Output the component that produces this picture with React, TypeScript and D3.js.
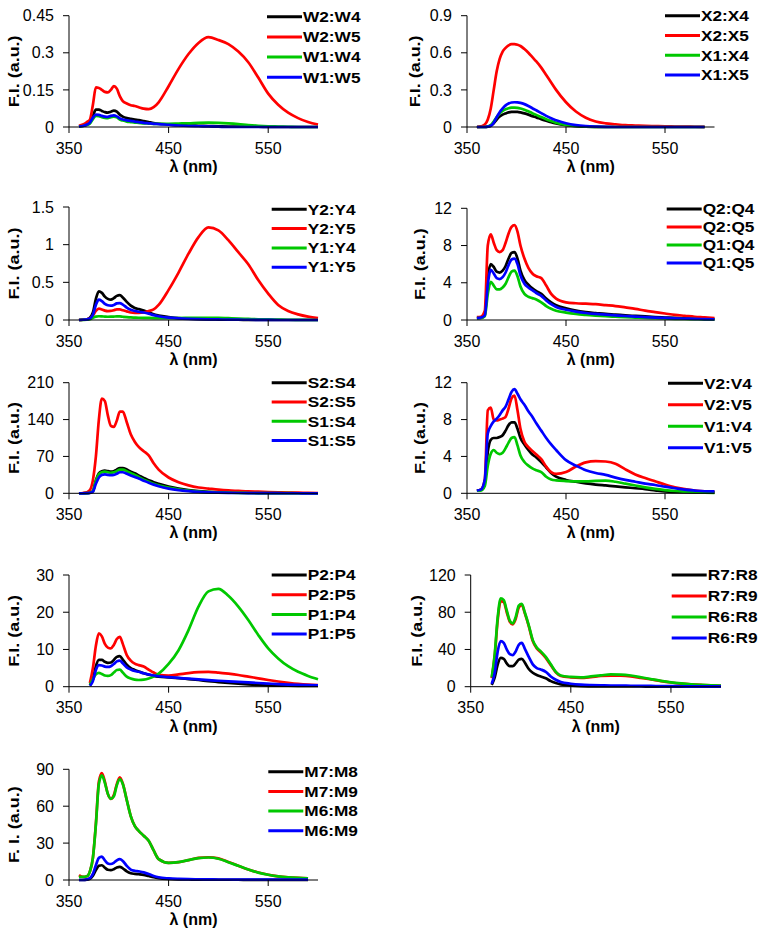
import * as d3 from 'd3';

// wavelength grid (nm) shared by every spectrum
const WL = [360, 364, 368, 371, 374, 377, 380, 383, 386, 389, 392, 395, 398, 401, 404, 408, 412, 416, 420, 425, 430, 435, 440, 450, 460, 470, 480, 490, 500, 510, 520, 530, 540, 550, 560, 570, 580, 590, 600];
const X_TICKS = [350, 450, 550];
const COLORS = ['#000000', '#ff0000', '#00c800', '#0000ff'];

// --- W ---
const W_NAMES = ['W2:W4', 'W2:W5', 'W1:W4', 'W1:W5'];
const W_TICKS = [0, 0.15, 0.3, 0.45];
const W_VALUES = [
  [0.002, 0.005, 0.01, 0.018, 0.045, 0.07, 0.07, 0.065, 0.06, 0.058, 0.062, 0.066, 0.062, 0.05, 0.042, 0.036, 0.033, 0.03, 0.028, 0.024, 0.02, 0.016, 0.013, 0.01, 0.008, 0.006, 0.005, 0.004, 0.003, 0.002, 0.002, 0.001, 0.001, 0, 0, 0, 0, 0, 0],
  [0.005, 0.01, 0.02, 0.03, 0.09, 0.16, 0.158, 0.15, 0.142, 0.14, 0.15, 0.165, 0.155, 0.125, 0.105, 0.095, 0.088, 0.085, 0.08, 0.074, 0.072, 0.08, 0.1, 0.165, 0.235, 0.295, 0.34, 0.363, 0.352, 0.335, 0.305, 0.262, 0.2, 0.135, 0.09, 0.058, 0.036, 0.02, 0.01],
  [0.002, 0.004, 0.008, 0.014, 0.032, 0.045, 0.044, 0.04, 0.037, 0.036, 0.04, 0.042, 0.039, 0.03, 0.026, 0.022, 0.02, 0.018, 0.017, 0.015, 0.014, 0.013, 0.013, 0.013, 0.014, 0.015, 0.017, 0.018, 0.017, 0.015, 0.012, 0.008, 0.005, 0.003, 0.002, 0.001, 0, 0, 0],
  [0.002, 0.004, 0.01, 0.018, 0.038, 0.05, 0.049, 0.045, 0.042, 0.041, 0.045, 0.047, 0.043, 0.035, 0.03, 0.027, 0.025, 0.022, 0.02, 0.017, 0.015, 0.013, 0.012, 0.009, 0.006, 0.004, 0.003, 0.002, 0.001, 0, 0, 0, 0, 0, 0, 0, 0, 0, 0],
];

// --- X ---
const X_NAMES = ['X2:X4', 'X2:X5', 'X1:X4', 'X1:X5'];
const X_YTICKS = [0, 0.3, 0.6, 0.9];
const X_VALUES = [
  [0, 0, 0, 0.003, 0.01, 0.03, 0.06, 0.085, 0.1, 0.11, 0.118, 0.122, 0.123, 0.122, 0.118, 0.11, 0.1, 0.088, 0.078, 0.063, 0.05, 0.038, 0.028, 0.014, 0.006, 0.003, 0.001, 0, 0, 0, 0, 0, 0, 0, 0, 0, 0, 0, null],
  [0, 0.005, 0.02, 0.06, 0.15, 0.3, 0.45, 0.55, 0.61, 0.64, 0.66, 0.67, 0.67, 0.665, 0.655, 0.63, 0.6, 0.565, 0.53, 0.48, 0.42, 0.36, 0.3, 0.2, 0.125, 0.075, 0.045, 0.03, 0.022, 0.015, 0.012, 0.009, 0.007, 0.005, 0.004, 0.003, 0.002, 0.001, null],
  [0, 0, 0, 0.004, 0.015, 0.045, 0.08, 0.11, 0.13, 0.143, 0.152, 0.156, 0.157, 0.155, 0.15, 0.14, 0.127, 0.112, 0.098, 0.08, 0.063, 0.048, 0.035, 0.017, 0.008, 0.003, 0.001, 0, 0, 0, 0, 0, 0, 0, 0, 0, 0, 0, null],
  [0, 0, 0, 0.003, 0.01, 0.035, 0.08, 0.12, 0.15, 0.175, 0.19, 0.198, 0.2, 0.199, 0.195, 0.185, 0.17, 0.152, 0.135, 0.112, 0.09, 0.07, 0.055, 0.03, 0.015, 0.007, 0.003, 0.001, 0, 0, 0, 0, 0, 0, 0, 0, 0, 0, null],
];

// --- Y ---
const Y_NAMES = ['Y2:Y4', 'Y2:Y5', 'Y1:Y4', 'Y1:Y5'];
const Y_YTICKS = [0, 0.5, 1, 1.5];
const Y_VALUES = [
  [0, 0.005, 0.01, 0.03, 0.1, 0.28, 0.38, 0.36, 0.31, 0.28, 0.27, 0.29, 0.32, 0.33, 0.3, 0.24, 0.19, 0.16, 0.145, 0.125, 0.1, 0.075, 0.06, 0.04, 0.025, 0.018, 0.012, 0.008, 0.006, 0.004, 0.003, 0.002, 0.001, 0, 0, 0, 0, 0, 0],
  [0, 0.005, 0.01, 0.02, 0.06, 0.12, 0.15, 0.14, 0.125, 0.118, 0.12, 0.13, 0.14, 0.14, 0.13, 0.115, 0.1, 0.095, 0.095, 0.1, 0.12, 0.14, 0.2, 0.4, 0.63, 0.88, 1.1, 1.23, 1.19, 1.06, 0.9, 0.74, 0.53, 0.35, 0.2, 0.12, 0.075, 0.045, 0.025],
  [0, 0.002, 0.005, 0.01, 0.03, 0.045, 0.05, 0.048, 0.045, 0.043, 0.044, 0.046, 0.048, 0.047, 0.043, 0.038, 0.034, 0.032, 0.03, 0.028, 0.027, 0.026, 0.025, 0.025, 0.026, 0.028, 0.03, 0.03, 0.028, 0.024, 0.02, 0.015, 0.01, 0.007, 0.005, 0.003, 0.002, 0.001, 0],
  [0, 0.003, 0.008, 0.02, 0.07, 0.2, 0.27, 0.25, 0.215, 0.195, 0.19, 0.2, 0.22, 0.225, 0.205, 0.165, 0.135, 0.12, 0.11, 0.1, 0.085, 0.065, 0.05, 0.032, 0.022, 0.016, 0.012, 0.009, 0.007, 0.005, 0.004, 0.003, 0.002, 0.001, 0, 0, 0, 0, 0],
];

// --- Q ---
const Q_NAMES = ['Q2:Q4', 'Q2:Q5', 'Q1:Q4', 'Q1:Q5'];
const Q_YTICKS = [0, 4, 8, 12];
const Q_VALUES = [
  [0.2, 0.25, 0.6, 4.5, 6.0, 5.7, 5.2, 5.1, 5.3, 5.8, 6.6, 7.2, 7.3, 6.6, 5.3, 4.3, 3.8, 3.4, 3.1, 2.8, 2.3, 1.9, 1.6, 1.25, 1.0, 0.85, 0.75, 0.65, 0.58, 0.5, 0.44, 0.38, 0.32, 0.27, 0.22, 0.18, 0.15, 0.12, 0.1],
  [0.3, 0.35, 1.0, 8.0, 9.2, 8.3, 7.5, 7.3, 7.5, 8.3, 9.3, 10.0, 10.2, 9.5, 8.0, 6.6, 5.6, 5.0, 4.7, 4.5, 3.7, 2.8, 2.3, 1.9, 1.8, 1.75, 1.7, 1.6, 1.5, 1.35, 1.2, 1.0, 0.85, 0.7, 0.55, 0.45, 0.35, 0.28, 0.2],
  [0.2, 0.2, 0.4, 2.8, 4.1, 3.7, 3.3, 3.3, 3.5, 3.9, 4.6, 5.2, 5.3, 4.7, 3.6, 2.8, 2.5, 2.35, 2.2, 1.9, 1.5, 1.2, 1.0, 0.8, 0.65, 0.55, 0.47, 0.4, 0.35, 0.3, 0.26, 0.22, 0.19, 0.16, 0.13, 0.11, 0.09, 0.07, 0.06],
  [0.2, 0.25, 0.5, 3.8, 5.4, 5.0, 4.5, 4.4, 4.6, 5.1, 5.9, 6.5, 6.6, 6.0, 4.8, 3.9, 3.5, 3.2, 2.9, 2.6, 2.1, 1.7, 1.4, 1.1, 0.9, 0.75, 0.65, 0.57, 0.5, 0.43, 0.37, 0.31, 0.26, 0.22, 0.18, 0.15, 0.12, 0.1, 0.08],
];

// --- S ---
const S_NAMES = ['S2:S4', 'S2:S5', 'S1:S4', 'S1:S5'];
const S_YTICKS = [0, 70, 140, 210];
const S_VALUES = [
  [0, 0, 0.3, 1, 4, 25, 38, 42, 43, 42, 41, 42, 45, 48, 48, 45, 41, 38, 34, 29, 25, 21, 18, 13, 9, 6, 4, 2.8, 2, 1.5, 1, 0.7, 0.5, 0.4, 0.3, 0.2, 0.1, 0.1, 0],
  [0, 0.5, 2, 6, 25, 70, 140, 180, 175, 148, 128, 126, 138, 155, 155, 135, 112, 98, 88, 80, 72, 57, 45, 30, 21, 15, 11, 9, 7, 5.5, 4.5, 3.5, 3, 2.5, 2, 1.5, 1.2, 0.9, 0.6],
  [0, 0, 0.3, 1, 4, 24, 36, 40, 41, 40, 39, 40, 42, 45, 45, 42, 38, 35, 31, 26, 22, 18, 15, 11, 7.5, 5, 3.3, 2.3, 1.6, 1.2, 0.8, 0.6, 0.4, 0.3, 0.2, 0.15, 0.1, 0.05, 0],
  [0, 0, 0.2, 0.8, 3, 18, 30, 35, 36, 35, 34.5, 35, 37, 40, 40, 37, 34, 31, 28, 24, 20, 16.5, 13.5, 9, 6, 4, 2.6, 1.8, 1.3, 0.9, 0.6, 0.4, 0.3, 0.2, 0.15, 0.1, 0.05, 0, 0],
];

// --- V ---
const V_NAMES = ['V2:V4', 'V2:V5', 'V1:V4', 'V1:V5'];
const V_YTICKS = [0, 4, 8, 12];
const V_VALUES = [
  [0.3, 0.4, 1.2, 4.5, 5.8, 6.0, 6.0, 6.1, 6.3, 6.8, 7.4, 7.7, 7.7, 7.0, 6.0, 5.3, 4.7, 4.2, 3.9, 3.4, 2.8, 2.2, 1.8, 1.45, 1.25, 1.08, 0.95, 0.85, 0.75, 0.65, 0.55, 0.45, 0.32, 0.2, 0.15, 0.12, 0.1, 0.1, 0.1],
  [0.3, 0.4, 1.5, 9.0, 9.3, 8.0, 7.9, 8.0, 8.1, 8.3, 9.2, 10.3, 10.6, 9.0, 7.0, 5.6, 5.0, 4.6, 4.2, 3.7, 2.9, 2.3, 2.1, 2.3, 2.9, 3.35, 3.5, 3.45, 3.2, 2.6, 2.05, 1.65, 1.3, 0.95, 0.65, 0.45, 0.3, 0.2, 0.15],
  [0.3, 0.3, 0.8, 3.0, 4.3, 4.7, 4.4, 4.25, 4.4, 4.9, 5.5, 6.0, 6.1, 5.2, 4.1, 3.4, 3.0, 2.7, 2.5, 2.3, 1.8, 1.5, 1.4, 1.33, 1.3, 1.3, 1.35, 1.37, 1.25, 1.05, 0.85, 0.65, 0.48, 0.35, 0.25, 0.18, 0.12, 0.08, 0.05],
  [0.3, 0.4, 1.5, 6.5, 7.3, 7.8, 8.1, 8.5, 9.0, 9.4, 10.2, 11.0, 11.3, 10.8, 10.2, 9.6, 8.9, 8.3, 7.6, 6.8, 6.0, 5.3, 4.7, 3.6, 3.0, 2.5, 2.2, 2.0, 1.7, 1.45, 1.25, 1.05, 0.9, 0.72, 0.55, 0.4, 0.3, 0.22, 0.2],
];

// --- P ---
const P_NAMES = ['P2:P4', 'P2:P5', 'P1:P4', 'P1:P5'];
const P_YTICKS = [0, 10, 20, 30];
const P_VALUES = [
  [null, null, null, 0.3, 2.0, 5.5, 7.2, 7.2, 6.7, 6.4, 6.5, 7.2, 8.0, 8.2, 7.3, 5.9, 5.0, 4.5, 4.1, 3.6, 3.2, 2.9, 2.7, 2.5, 2.3, 2.05, 1.8, 1.5, 1.25, 1.0, 0.8, 0.6, 0.45, 0.35, 0.3, 0.25, 0.22, 0.2, 0.2],
  [null, null, null, 1.0, 5, 11, 14.3, 13.5, 11.5, 10.5, 10.3, 11.2, 12.8, 13.4, 11.5, 8.5, 7.0, 6.2, 5.8, 5.4, 4.6, 3.8, 3.2, 3.0, 3.3, 3.65, 3.9, 4.0, 3.8, 3.5, 3.15, 2.7, 2.25, 1.8, 1.4, 1.05, 0.75, 0.55, 0.45],
  [null, null, null, 0.5, 2.0, 3.3, 3.7, 3.4, 3.0, 2.9, 3.1, 3.8, 4.5, 4.6, 3.8, 2.7, 2.2, 1.9, 1.8, 1.9, 2.2, 2.7, 3.5, 6.1, 9.8, 15.2, 21.5, 25.6, 26.3, 24.4, 21.5, 17.9, 13.9, 10.3, 7.6, 5.5, 4.0, 2.9, 2.0],
  [null, null, null, 0.2, 1.5, 4.5, 5.8, 5.7, 5.4, 5.3, 5.5, 6.1, 6.8, 7.0, 6.3, 5.2, 4.6, 4.2, 4.0, 3.6, 3.3, 3.0, 2.8, 2.55, 2.35, 2.15, 1.95, 1.75, 1.6, 1.45, 1.3, 1.15, 1.0, 0.85, 0.7, 0.58, 0.48, 0.4, 0.35],
];

// --- R ---
const R_NAMES = ['R7:R8', 'R7:R9', 'R6:R8', 'R6:R9'];
const R_YTICKS = [0, 40, 80, 120];
const R_VALUES = [
  [null, null, null, 2, 10, 24, 31, 30, 25, 22, 22, 25, 29, 30, 26, 19, 15, 12.5, 11, 9, 6, 4, 2.5, 1.2, 0.6, 0.4, 0.3, 0.3, 0.2, 0.2, 0.2, 0.1, 0.1, 0.1, 0.1, 0.1, 0.1, 0.1, 0.1],
  [null, null, null, 9, 33, 72, 92, 91, 80, 70, 67, 73, 85, 88, 79, 65, 49, 41, 37, 31, 23, 15.5, 11.5, 10, 9.5, 10.3, 11.5, 12, 11.8, 11, 9.5, 7.8, 6, 4.5, 3.3, 2.5, 1.9, 1.4, 1],
  [null, null, null, 10, 35, 75, 95, 93, 82, 71, 68, 75, 87, 89, 80, 66, 50, 42, 38, 32, 24, 16, 12, 10.5, 10, 11, 12.2, 13.2, 13, 12, 10.2, 8.2, 6.3, 4.7, 3.5, 2.6, 2, 1.5, 1.1],
  [null, null, null, 3, 15, 38, 49, 47, 40, 35, 34, 38, 45, 47, 41, 32, 24, 20, 18.5, 16, 11, 7.5, 5, 3.2, 2.2, 1.7, 1.4, 1.2, 1.1, 1, 0.9, 0.8, 0.7, 0.6, 0.5, 0.4, 0.35, 0.3, 0.3],
];

// --- M ---
const M_NAMES = ['M7:M8', 'M7:M9', 'M6:M8', 'M6:M9'];
const M_YTICKS = [0, 30, 60, 90];
const M_VALUES = [
  [0, 0, 0.3, 1, 3.5, 8, 11.5, 12, 10, 8.3, 8, 8.8, 10.2, 10.6, 9.5, 7, 5.5, 5, 4.7, 4.2, 3.2, 2.2, 1.5, 0.8, 0.5, 0.4, 0.3, 0.3, 0.2, 0.2, 0.2, 0.1, 0.1, 0.1, 0.1, 0.1, 0.1, 0.1, null],
  [4, 2.5, 3, 7, 18, 46, 80, 87, 80, 70, 66, 69, 78, 83.5, 78.5, 65, 52, 44, 40, 36, 32, 24, 17, 14, 14.5, 16.2, 18, 18.5, 17.6, 14.7, 11.6, 8.6, 6.1, 4.3, 3, 2.2, 1.7, 1.4, null],
  [2.5, 2.5, 3, 7, 18, 45, 78, 85, 79, 70, 66, 68, 77, 82, 78, 65, 52, 44, 40, 36, 32, 24, 17, 14, 14.5, 16.2, 17.8, 18.3, 17.3, 14.5, 11.5, 8.5, 6, 4.3, 3, 2.2, 1.7, 1.4, null],
  [0, 0, 0.5, 1.5, 5, 12, 18, 19, 16, 13.5, 13, 14, 16, 17, 15.5, 11.5, 8.5, 7.5, 7, 6.2, 4.8, 3.3, 2.2, 1.3, 0.9, 0.7, 0.6, 0.5, 0.4, 0.4, 0.3, 0.3, 0.3, 0.3, 0.3, 0.3, 0.3, 0.3, null],
];

const FONT = '"Liberation Sans", Arial, Helvetica, sans-serif';

// layout of the 9 panels (plot box + legend anchor)
const PANELS = [
  { names: W_NAMES, ticks: W_TICKS, values: W_VALUES, title: 'F.I. (a.u.)', x0: 69, x1: 318, top: 15.7, zero: 127, tx: 13.3, lx: 267, ly: 16.7, lg: 20.2 },
  { names: X_NAMES, ticks: X_YTICKS, values: X_VALUES, title: 'F.I. (a.u.)', x0: 467, x1: 714.5, top: 15.7, zero: 127, tx: 415, lx: 665, ly: 15.7, lg: 19.8 },
  { names: Y_NAMES, ticks: Y_YTICKS, values: Y_VALUES, title: 'F.I. (a.u.)', x0: 69, x1: 318, top: 207, zero: 320, tx: 13.3, lx: 271.7, ly: 209.3, lg: 19.3 },
  { names: Q_NAMES, ticks: Q_YTICKS, values: Q_VALUES, title: 'F.I. (a.u.)', x0: 467, x1: 714.5, top: 208.3, zero: 320, tx: 420, lx: 666.7, ly: 209, lg: 18 },
  { names: S_NAMES, ticks: S_YTICKS, values: S_VALUES, title: 'F.I. (a.u.)', x0: 69, x1: 318, top: 382.7, zero: 493.3, tx: 13.3, lx: 271.7, ly: 382.7, lg: 19.3 },
  { names: V_NAMES, ticks: V_YTICKS, values: V_VALUES, title: 'F.I. (a.u.)', x0: 467, x1: 714.5, top: 382.7, zero: 493.3, tx: 420, lx: 668, ly: 383.3, lg: 21.5 },
  { names: P_NAMES, ticks: P_YTICKS, values: P_VALUES, title: 'F.I. (a.u.)', x0: 69, x1: 318, top: 575, zero: 686.7, tx: 13.3, lx: 271.7, ly: 575, lg: 19.7 },
  { names: R_NAMES, ticks: R_YTICKS, values: R_VALUES, title: 'F.I. (a.u.)', x0: 470.7, x1: 721, top: 575, zero: 686.7, tx: 416.7, lx: 671.7, ly: 575, lg: 21 },
  { names: M_NAMES, ticks: M_YTICKS, values: M_VALUES, title: 'F. I. (a.u.)', x0: 69, x1: 318, top: 769.3, zero: 880, tx: 13.3, lx: 268.3, ly: 771.7, lg: 19.7 },
];

type PanelDef = (typeof PANELS)[number];

function Panel({ p }: { p: PanelDef }) {
  const x = d3.scaleLinear().domain([350, 600]).range([p.x0, p.x1]);
  const y = d3.scaleLinear().domain([0, p.ticks[p.ticks.length - 1]]).range([p.zero, p.top]);
  const line = d3.line<number | null>()
    .defined(d => d != null)
    .x((_, i) => x(WL[i]))
    .y(d => y(d as number))
    .curve(d3.curveMonotoneX);

  return (
    <g>
      {/* spectra, legend order = draw order */}
      {p.values.map((vals, k) => (
        <path key={k} d={line(vals) || ''} fill="none" stroke={COLORS[k]} strokeWidth={2.7} strokeLinejoin="round" />
      ))}

      {/* axes */}
      <line x1={p.x0} x2={p.x0} y1={p.top} y2={p.zero} stroke="#000" strokeWidth={1} />
      <line x1={p.x0} x2={p.x1} y1={p.zero} y2={p.zero} stroke="#000" strokeWidth={1} />
      {p.ticks.map(t => (
        <g key={t}>
          <line x1={p.x0 - 6} x2={p.x0} y1={y(t)} y2={y(t)} stroke="#000" />
          <text x={p.x0 - 15} y={y(t)} dy="0.35em" textAnchor="end" fontSize={16} fontFamily={FONT}>{String(t)}</text>
        </g>
      ))}
      {X_TICKS.map(t => (
        <g key={t}>
          <line x1={x(t)} x2={x(t)} y1={p.zero} y2={p.zero + 6} stroke="#000" />
          <text x={x(t)} y={p.zero + 21} dy="0.35em" textAnchor="middle" fontSize={16} fontFamily={FONT}>{t}</text>
        </g>
      ))}
      <text x={(p.x0 + p.x1) / 2} y={p.zero + 39.5} dy="0.35em" textAnchor="middle" fontSize={16} fontWeight="bold" fontFamily={FONT}>λ (nm)</text>
      <text transform={`translate(${p.tx},${(p.top + p.zero) / 2}) rotate(-90) scale(1.2,1)`} dy="0.35em" textAnchor="middle" fontSize={15} fontWeight="bold" fontFamily={FONT}>{p.title}</text>

      {/* legend */}
      {p.names.map((n, k) => (
        <g key={n}>
          <line x1={p.lx} x2={p.lx + 35} y1={p.ly + k * p.lg} y2={p.ly + k * p.lg} stroke={COLORS[k]} strokeWidth={3} />
          <text transform={`translate(${p.lx + 36},${p.ly + k * p.lg}) scale(1.15,1)`} dy="0.35em" fontSize={15} fontWeight="bold" fontFamily={FONT}>{n}</text>
        </g>
      ))}
    </g>
  );
}

export default function App() {
  return (
    <svg width={764} height={938} style={{ position: 'absolute', left: 0, top: 0, background: '#fff' }}>
      <rect width={764} height={938} fill="#fff" />
      {PANELS.map((p, i) => <Panel key={i} p={p} />)}
    </svg>
  );
}
